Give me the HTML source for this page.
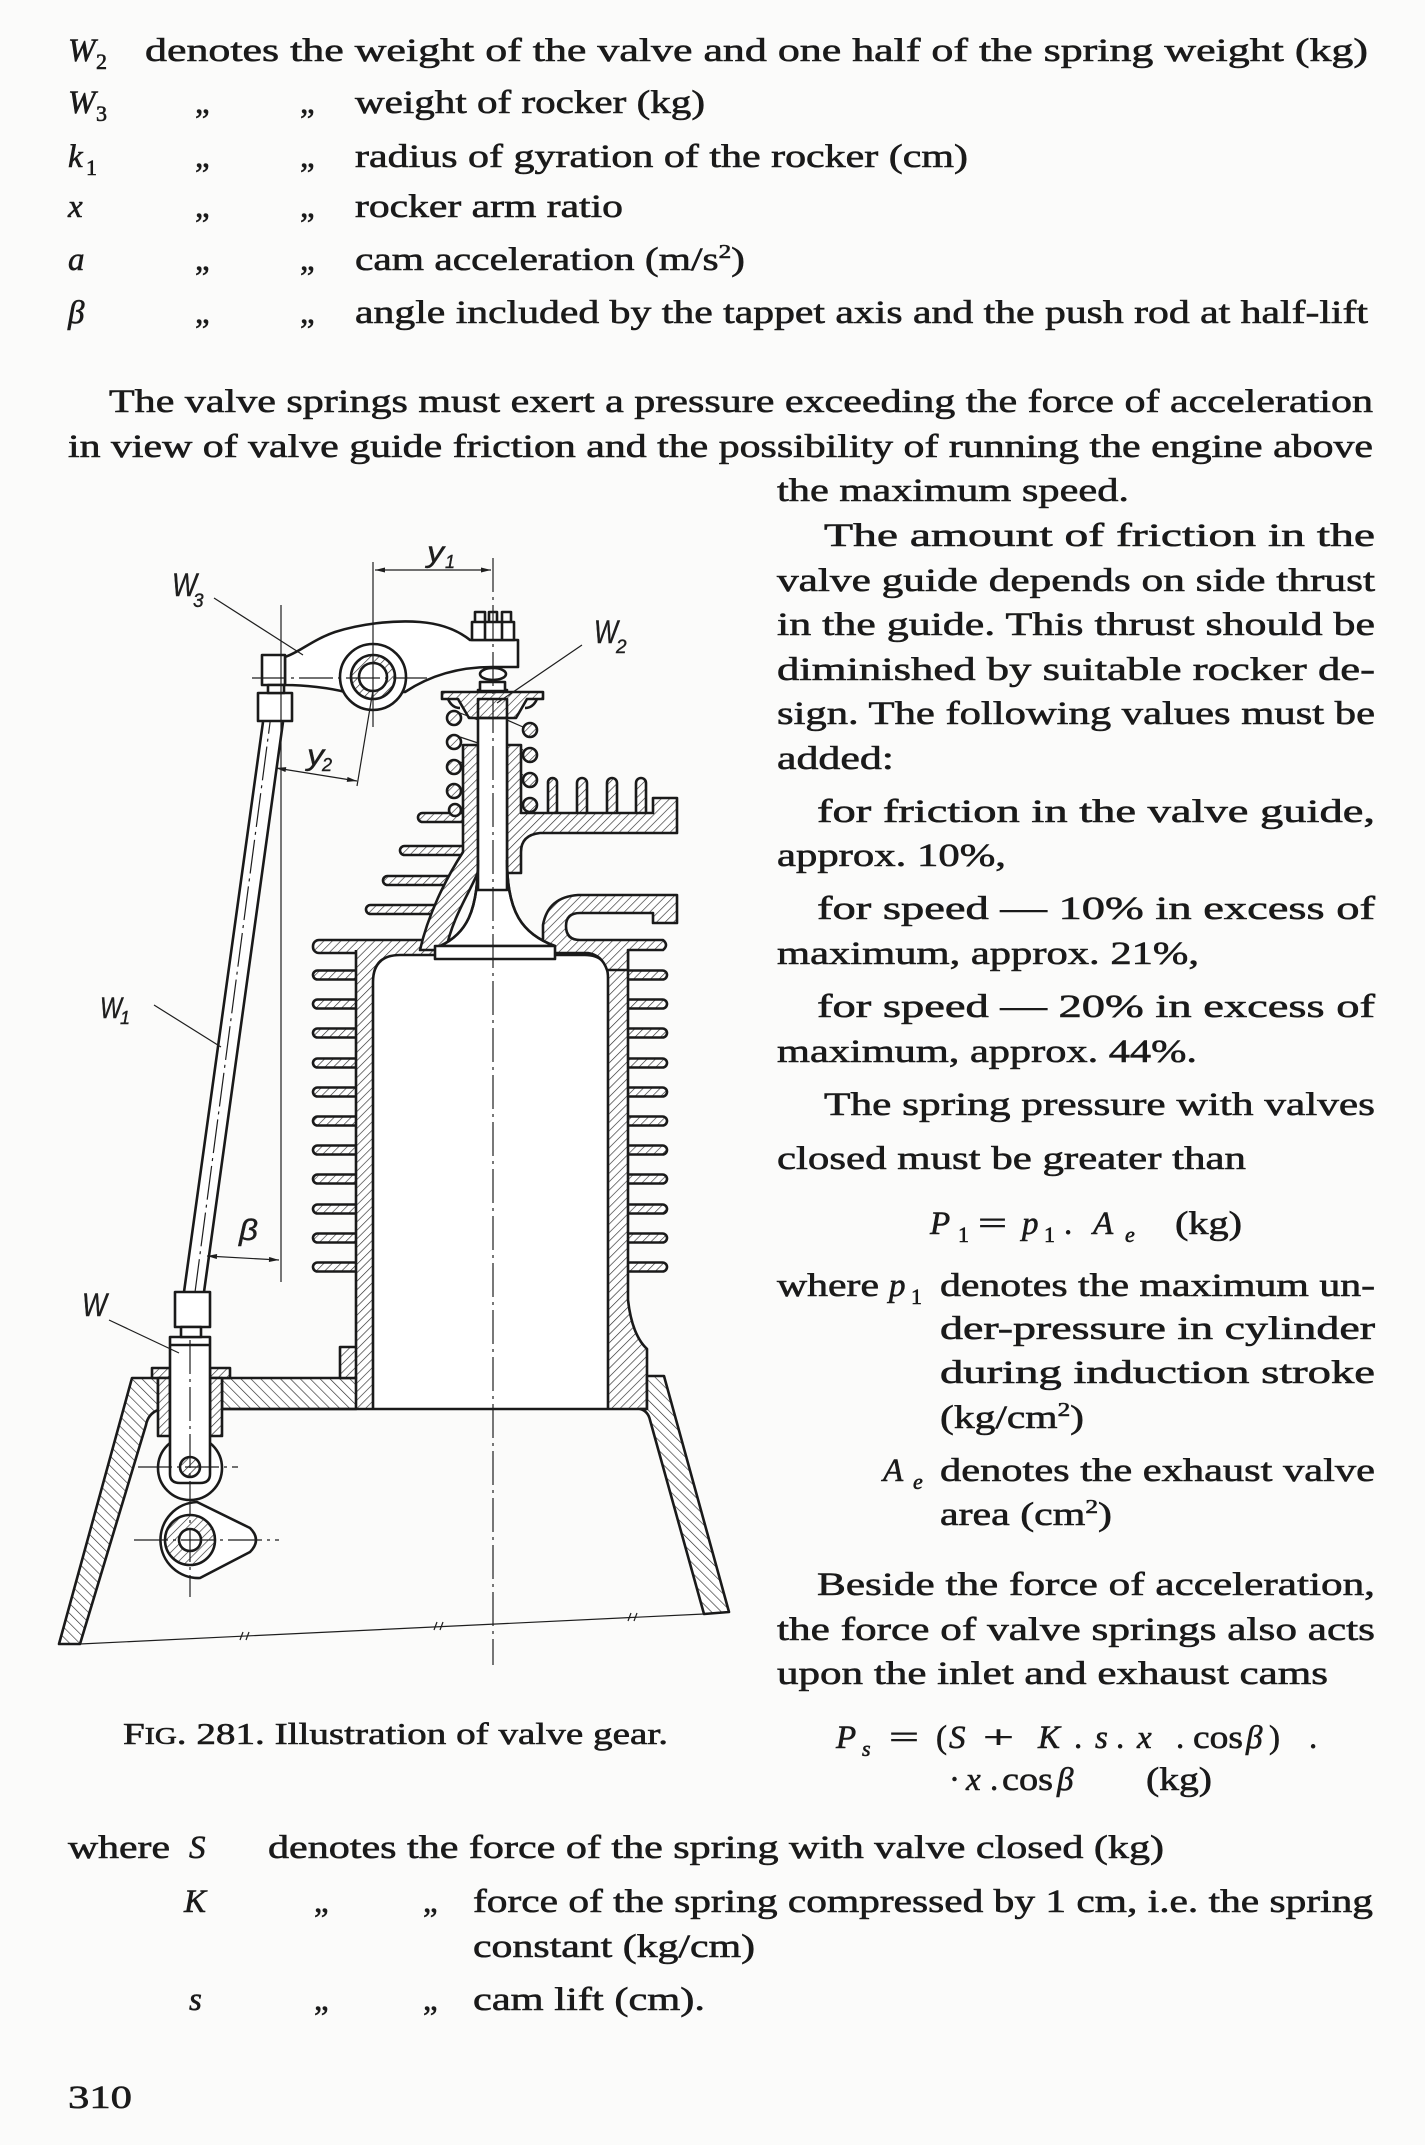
<!DOCTYPE html>
<html><head><meta charset="utf-8"><style>
html,body{margin:0;padding:0;background:#fbfbfa;}
svg{display:block;}
.t{font-family:"Liberation Serif",serif;font-size:33px;fill:#1a1a1a;stroke:#1a1a1a;stroke-width:0.6px;}
.i{font-style:italic;}
.s{font-size:22px;}
.l{font-family:"Liberation Sans",sans-serif;font-style:italic;fill:#1e1e1e;stroke:#1e1e1e;stroke-width:0.4px;}
.o{stroke:#1a1a1a;stroke-width:2.6;stroke-linejoin:round;}
.th{stroke:#1e1e1e;stroke-width:1.2;fill:none;}
.cl{stroke:#1e1e1e;stroke-width:1.2;fill:none;stroke-dasharray:34 5 3 5;}
</style></head><body>
<svg width="1425" height="2145" viewBox="0 0 1425 2145" xmlns="http://www.w3.org/2000/svg">
<defs>
<pattern id="h1" width="6" height="6" patternUnits="userSpaceOnUse" patternTransform="rotate(45)"><rect width="6" height="6" fill="#fff"/><line x1="0" y1="0" x2="0" y2="6" stroke="#2c2c2c" stroke-width="1.3"/></pattern>
<pattern id="h2" width="7" height="7" patternUnits="userSpaceOnUse" patternTransform="rotate(-45)"><rect width="7" height="7" fill="#fff"/><line x1="0" y1="0" x2="0" y2="7" stroke="#2c2c2c" stroke-width="1.3"/></pattern>
<marker id="ar" viewBox="0 0 12 6" refX="12" refY="3" markerWidth="12" markerHeight="5" markerUnits="userSpaceOnUse" orient="auto-start-reverse"><path d="M0,0 L12,3 L0,6 z" fill="#1e1e1e"/></marker>
</defs>

<!-- ===== TOP LIST ===== -->
<g class="t">
<text x="68" y="61" class="i">W</text><text x="96" y="69" class="s">2</text>
<text x="145" y="61" textLength="1223" lengthAdjust="spacingAndGlyphs">denotes the weight of the valve and one half of the spring weight (kg)</text>

<text x="68" y="113" class="i">W</text><text x="96" y="121" class="s">3</text>
<text x="195" y="113">„</text><text x="300" y="113">„</text>
<text x="355" y="113" textLength="350" lengthAdjust="spacingAndGlyphs">weight of rocker (kg)</text>

<text x="68" y="167" class="i">k</text><text x="86" y="175" class="s">1</text>
<text x="195" y="167">„</text><text x="300" y="167">„</text>
<text x="355" y="167" textLength="613" lengthAdjust="spacingAndGlyphs">radius of gyration of the rocker (cm)</text>

<text x="68" y="217" class="i">x</text>
<text x="195" y="217">„</text><text x="300" y="217">„</text>
<text x="355" y="217" textLength="268" lengthAdjust="spacingAndGlyphs">rocker arm ratio</text>

<text x="68" y="270" class="i">a</text>
<text x="195" y="270">„</text><text x="300" y="270">„</text>
<text x="355" y="270" textLength="390" lengthAdjust="spacingAndGlyphs">cam acceleration (m/s<tspan dy="-12" font-size="20">2</tspan><tspan dy="12">)</tspan></text>

<text x="68" y="323" class="i">β</text>
<text x="195" y="323">„</text><text x="300" y="323">„</text>
<text x="355" y="323" textLength="1013" lengthAdjust="spacingAndGlyphs">angle included by the tappet axis and the push rod at half-lift</text>

<!-- paragraph -->
<text x="109" y="412" textLength="1264" lengthAdjust="spacingAndGlyphs">The valve springs must exert a pressure exceeding the force of acceleration</text>
<text x="68" y="457" textLength="1305" lengthAdjust="spacingAndGlyphs">in view of valve guide friction and the possibility of running the engine above</text>
<text x="777" y="501" textLength="352" lengthAdjust="spacingAndGlyphs">the maximum speed.</text>

<text x="824" y="546" textLength="551" lengthAdjust="spacingAndGlyphs">The amount of friction in the</text>
<text x="777" y="591" textLength="598" lengthAdjust="spacingAndGlyphs">valve guide depends on side thrust</text>
<text x="777" y="635" textLength="598" lengthAdjust="spacingAndGlyphs">in the guide. This thrust should be</text>
<text x="777" y="680" textLength="598" lengthAdjust="spacingAndGlyphs">diminished by suitable rocker de-</text>
<text x="777" y="724" textLength="598" lengthAdjust="spacingAndGlyphs">sign. The following values must be</text>
<text x="777" y="769" textLength="117" lengthAdjust="spacingAndGlyphs">added:</text>

<text x="817" y="822" textLength="558" lengthAdjust="spacingAndGlyphs">for friction in the valve guide,</text>
<text x="777" y="866" textLength="229" lengthAdjust="spacingAndGlyphs">approx. 10%,</text>
<text x="817" y="919" textLength="558" lengthAdjust="spacingAndGlyphs">for speed — 10% in excess of</text>
<text x="777" y="964" textLength="422" lengthAdjust="spacingAndGlyphs">maximum, approx. 21%,</text>
<text x="817" y="1017" textLength="558" lengthAdjust="spacingAndGlyphs">for speed — 20% in excess of</text>
<text x="777" y="1062" textLength="420" lengthAdjust="spacingAndGlyphs">maximum, approx. 44%.</text>

<text x="824" y="1115" textLength="551" lengthAdjust="spacingAndGlyphs">The spring pressure with valves</text>
<text x="777" y="1169" textLength="469" lengthAdjust="spacingAndGlyphs">closed must be greater than</text>

<!-- P1 formula -->
<text x="930" y="1234" class="i">P</text><text x="958" y="1242" class="s">1</text>
<text x="978" y="1234" textLength="29" lengthAdjust="spacingAndGlyphs">=</text>
<text x="1022" y="1234" class="i">p</text><text x="1044" y="1242" class="s">1</text>
<text x="1064" y="1234">.</text>
<text x="1093" y="1234" class="i">A</text><text x="1125" y="1242" class="s i">e</text>
<text x="1175" y="1234" textLength="67" lengthAdjust="spacingAndGlyphs">(kg)</text>

<text x="777" y="1296" textLength="102" lengthAdjust="spacingAndGlyphs">where</text>
<text x="889" y="1296" class="i">p</text><text x="911" y="1304" class="s">1</text>
<text x="940" y="1296" textLength="435" lengthAdjust="spacingAndGlyphs">denotes the maximum un-</text>
<text x="940" y="1339" textLength="435" lengthAdjust="spacingAndGlyphs">der-pressure in cylinder</text>
<text x="940" y="1383" textLength="435" lengthAdjust="spacingAndGlyphs">during induction stroke</text>
<text x="940" y="1428" textLength="144" lengthAdjust="spacingAndGlyphs">(kg/cm<tspan dy="-12" font-size="20">2</tspan><tspan dy="12">)</tspan></text>
<text x="883" y="1481" class="i">A</text><text x="913" y="1489" class="s i">e</text>
<text x="940" y="1481" textLength="435" lengthAdjust="spacingAndGlyphs">denotes the exhaust valve</text>
<text x="940" y="1525" textLength="172" lengthAdjust="spacingAndGlyphs">area (cm<tspan dy="-12" font-size="20">2</tspan><tspan dy="12">)</tspan></text>

<text x="817" y="1595" textLength="558" lengthAdjust="spacingAndGlyphs">Beside the force of acceleration,</text>
<text x="777" y="1640" textLength="598" lengthAdjust="spacingAndGlyphs">the force of valve springs also acts</text>
<text x="777" y="1684" textLength="551" lengthAdjust="spacingAndGlyphs">upon the inlet and exhaust cams</text>

<!-- Ps formula -->
<text x="836" y="1748" class="i">P</text><text x="862" y="1756" class="s i">s</text>
<text x="889" y="1748" textLength="30" lengthAdjust="spacingAndGlyphs">=</text>
<text x="936" y="1748">(</text>
<text x="949" y="1748" class="i">S</text>
<text x="983" y="1748" textLength="31" lengthAdjust="spacingAndGlyphs">+</text>
<text x="1038" y="1748" class="i">K</text>
<text x="1074" y="1748">.</text>
<text x="1095" y="1748" class="i">s</text>
<text x="1116" y="1748">.</text>
<text x="1137" y="1748" class="i">x</text>
<text x="1176" y="1748">.</text>
<text x="1193" y="1748" textLength="50" lengthAdjust="spacingAndGlyphs">cos</text>
<text x="1246" y="1748" class="i">β</text>
<text x="1269" y="1748">)</text>
<text x="1309" y="1748">.</text>

<text x="949" y="1790">·</text>
<text x="966" y="1790" class="i">x</text>
<text x="990" y="1790">.</text>
<text x="1002" y="1790" textLength="51" lengthAdjust="spacingAndGlyphs">cos</text>
<text x="1057" y="1790" class="i">β</text>
<text x="1146" y="1790" textLength="66" lengthAdjust="spacingAndGlyphs">(kg)</text>

<!-- caption -->
<text x="123" y="1744" textLength="545" lengthAdjust="spacingAndGlyphs" font-size="31">F<tspan font-size="24">IG</tspan>. 281. Illustration of valve gear.</text>

<!-- bottom list -->
<text x="68" y="1858" textLength="102" lengthAdjust="spacingAndGlyphs">where</text>
<text x="189" y="1858" class="i">S</text>
<text x="268" y="1858" textLength="896" lengthAdjust="spacingAndGlyphs">denotes the force of the spring with valve closed (kg)</text>

<text x="184" y="1912" class="i">K</text>
<text x="314" y="1912">„</text><text x="423" y="1912">„</text>
<text x="473" y="1912" textLength="900" lengthAdjust="spacingAndGlyphs">force of the spring compressed by 1 cm, i.e. the spring</text>
<text x="473" y="1957" textLength="282" lengthAdjust="spacingAndGlyphs">constant (kg/cm)</text>

<text x="189" y="2010" class="i">s</text>
<text x="314" y="2010">„</text><text x="423" y="2010">„</text>
<text x="473" y="2010" textLength="232" lengthAdjust="spacingAndGlyphs">cam lift (cm).</text>

<text x="68" y="2108" textLength="64" lengthAdjust="spacingAndGlyphs">310</text>
</g>

<!-- ===== FIGURE ===== -->
<g>
<!-- left barrel fins -->
<g fill="url(#h1)" class="o">
<rect x="313" y="940" width="135" height="13" rx="6"/>
<rect x="313" y="970.5" width="50" height="9" rx="4.5"/>
<rect x="313" y="999.5" width="50" height="9" rx="4.5"/>
<rect x="313" y="1028.5" width="50" height="9" rx="4.5"/>
<rect x="313" y="1058.5" width="50" height="9" rx="4.5"/>
<rect x="313" y="1087.5" width="50" height="9" rx="4.5"/>
<rect x="313" y="1116.5" width="50" height="9" rx="4.5"/>
<rect x="313" y="1145.5" width="50" height="9" rx="4.5"/>
<rect x="313" y="1174.5" width="50" height="9" rx="4.5"/>
<rect x="313" y="1204.5" width="50" height="9" rx="4.5"/>
<rect x="313" y="1233.5" width="50" height="9" rx="4.5"/>
<rect x="313" y="1262.5" width="50" height="9" rx="4.5"/>
<!-- right barrel fins -->
<rect x="620" y="970.5" width="47" height="9" rx="4.5"/>
<rect x="620" y="999.5" width="47" height="9" rx="4.5"/>
<rect x="620" y="1028.5" width="47" height="9" rx="4.5"/>
<rect x="620" y="1058.5" width="47" height="9" rx="4.5"/>
<rect x="620" y="1087.5" width="47" height="9" rx="4.5"/>
<rect x="620" y="1116.5" width="47" height="9" rx="4.5"/>
<rect x="620" y="1145.5" width="47" height="9" rx="4.5"/>
<rect x="620" y="1174.5" width="47" height="9" rx="4.5"/>
<rect x="620" y="1204.5" width="47" height="9" rx="4.5"/>
<rect x="620" y="1233.5" width="47" height="9" rx="4.5"/>
<rect x="620" y="1262.5" width="47" height="9" rx="4.5"/>
<!-- head left fins -->
<rect x="418" y="813" width="55" height="9" rx="4.5"/>
<rect x="400" y="846" width="66" height="9" rx="4.5"/>
<rect x="383" y="876" width="72" height="9" rx="4.5"/>
<rect x="366" y="905" width="76" height="9" rx="4.5"/>
<!-- head top fins -->
<rect x="548" y="778" width="9" height="42" rx="4.5"/>
<rect x="577" y="778" width="10" height="42" rx="5"/>
<rect x="607" y="778" width="10" height="42" rx="5"/>
<rect x="636" y="778" width="10" height="42" rx="5"/>
</g>

<!-- barrel body -->
<path d="M356,950 L628,950 L628,1300 Q632,1335 647,1349 L647,1409 L356,1409 Z" fill="url(#h1)"/>
<path d="M356,950 L356,1347 M628,950 L628,1300 Q632,1335 647,1349 L647,1409" class="o" fill="none"/>
<!-- bore -->
<path d="M373,1409 L373,982 Q373,955 400,955 L585,955 Q608,955 608,978 L608,1409" fill="#fff" class="o"/>

<!-- head left diagonal wall + guide -->
<path d="M463,745 L478,745 L478,872 C470,892 452,918 446,950 L420,950 C428,915 445,880 463,852 Z" fill="url(#h1)" class="o"/>
<!-- head upper right + guide -->
<path d="M507,745 L521,745 L521,813 L653,813 L653,798 L677,798 L677,833 L540,833 Q521,835 521,852 L521,873 L507,873 Z" fill="url(#h1)" class="o"/>
<!-- head lower right -->
<path d="M543,950 L543,925 Q548,897 578,895 L677,895 L677,923 L653,923 L653,913 L580,913 Q566,913 566,926 Q566,940 580,940 L663,940 Q669,945 663,950 L628,950 L628,970 L607,970 Q602,955 588,953 L555,953 Z" fill="url(#h1)" class="o"/>

<!-- valve -->
<path d="M478,860 C478,912 466,934 440,946 L555,946 C522,934 507,912 507,860 Z" fill="#fff" class="o"/>
<rect x="478" y="690" width="29" height="200" fill="#fff" class="o"/>
<path d="M478,860 C478,912 466,934 440,946 M507,860 C507,912 522,934 555,946" class="o" fill="none"/>
<rect x="435" y="946" width="120" height="13" fill="#fff" class="o"/>
<rect x="480" y="682" width="25" height="9" fill="#fff" class="o"/>
<!-- retainer -->
<path d="M442,692 L543,692 L543,699 L527,699 L516,718 L469,718 L458,699 L442,699 Z" fill="url(#h1)" class="o"/>
<path d="M448,699 Q452,708 460,708 M537,699 Q533,708 525,708" class="o" fill="none"/>
<rect x="478" y="699" width="29" height="19" fill="none" class="o"/>
<!-- spring coils -->
<g fill="url(#h1)" class="o">
<circle cx="454" cy="718" r="7"/><circle cx="454" cy="742" r="7"/><circle cx="454" cy="767" r="7"/><circle cx="454" cy="791" r="7"/><circle cx="455" cy="810" r="6"/>
<circle cx="530" cy="730" r="7"/><circle cx="530" cy="755" r="7"/><circle cx="530" cy="780" r="7"/><circle cx="530" cy="805" r="7"/>
</g>
<path d="M460,713 L478,720 M460,737 L478,743 M460,762 L463,763 M523,727 L507,720 M523,750 L521,749 M523,775 L521,774" class="th" stroke-width="1.8"/>

<!-- crankcase -->
<rect x="222" y="1378" width="134" height="31" fill="url(#h2)" class="o"/>
<rect x="340" y="1347" width="16" height="31" fill="url(#h1)" class="o"/>
<path d="M132,1378 L158,1378 L158,1410 Q148,1414 146,1425 L80,1644 L59,1644 Z" fill="url(#h2)" class="o"/>
<path d="M647,1376 L664,1376 L729,1612 L704,1614 L650,1420 Q648,1411 640,1409 L647,1409 Z" fill="url(#h2)" class="o"/>
<line x1="158" y1="1409" x2="647" y2="1409" class="o"/>
<line x1="80" y1="1644" x2="704" y2="1614" class="th" stroke-width="1.5"/>
<path d="M240,1640 l3,-8 M246,1640 l3,-8 M434,1630 l3,-8 M440,1630 l3,-8 M628,1621 l3,-8 M634,1621 l3,-8" class="th"/>

<!-- tappet guide -->
<g fill="url(#h1)" class="o">
<rect x="152" y="1368" width="18" height="10"/>
<rect x="210" y="1368" width="20" height="10"/>
<rect x="158" y="1378" width="12" height="58"/>
<rect x="210" y="1378" width="12" height="58"/>
</g>
<!-- roller -->
<circle cx="190" cy="1468" r="32" fill="#fff" class="o"/>
<path d="M170,1337 L210,1337 L210,1474 Q210,1483 200,1483 L180,1483 Q170,1483 170,1474 Z" fill="#fff" class="o"/>
<line x1="170" y1="1345" x2="210" y2="1345" class="o"/>
<circle cx="190" cy="1467" r="10" fill="url(#h1)" class="o"/>
<!-- cam -->
<path d="M197,1502 L250,1528 Q262,1540 250,1552 L200,1578 A38,38 0 1,1 197,1502 Z" fill="#fff" class="o"/>
<circle cx="190" cy="1540" r="25" fill="url(#h1)" class="o"/>
<circle cx="190" cy="1540" r="11" fill="#fff" class="o"/>
<path d="M138,1467 L238,1467 M134,1540 L279,1540" class="cl"/>
<path d="M190,1340 L190,1597" class="cl"/>

<!-- push rod -->
<path d="M263,722 L283,722 L204,1292 L184,1292 Z" fill="#fff"/>
<path d="M263,722 L184,1292 M283,722 L204,1292" class="o"/>
<line x1="273" y1="700" x2="192" y2="1315" class="cl"/>
<rect x="258" y="693" width="34" height="28" fill="#fff" class="o"/>
<rect x="175" y="1292" width="35" height="35" fill="#fff" class="o"/>
<rect x="181" y="1327" width="20" height="10" fill="#fff" class="o"/>

<!-- rocker -->
<path d="M285,657 C300,652 312,640 335,632 C360,624 392,620 420,622 C445,624 460,632 470,640 L518,640 L518,667 L492,667 C462,667 432,674 405,692 L345,692 C330,688 305,685 285,685 Z" fill="#fff" class="o"/>
<rect x="262" y="655" width="23" height="30" fill="#fff" class="o"/>
<rect x="268" y="685" width="16" height="8" fill="#fff" class="o"/>
<circle cx="373" cy="677" r="33" fill="#fff" class="o"/>
<circle cx="373" cy="677" r="22" fill="url(#h1)" class="o"/>
<circle cx="373" cy="677" r="14" fill="#fff" class="o"/>
<rect x="472" y="622" width="42" height="18" fill="#fff" class="o"/>
<path d="M475,622 L475,612 L485,612 L485,622 M489,622 L489,612 L497,612 L497,622 M502,622 L502,612 L511,612 L511,622 M485,622 L485,640 M502,622 L502,640" class="o" fill="none"/>
<ellipse cx="493" cy="674" rx="13" ry="6" fill="#fff" class="o"/>
<line x1="252" y1="678" x2="432" y2="678" class="cl"/>

<!-- centerline valve -->
<line x1="493" y1="558" x2="493" y2="1665" class="cl"/>

<!-- dimensions -->
<line x1="373" y1="562" x2="373" y2="727" class="th"/>
<line x1="375" y1="570" x2="491" y2="570" class="th" marker-start="url(#ar)" marker-end="url(#ar)"/>
<line x1="373" y1="690" x2="357" y2="786" class="th"/>
<line x1="276" y1="768" x2="357" y2="781" class="th" marker-start="url(#ar)" marker-end="url(#ar)"/>
<line x1="281" y1="605" x2="281" y2="1282" class="th"/>
<line x1="207" y1="1256" x2="279" y2="1260" class="th" marker-start="url(#ar)" marker-end="url(#ar)"/>

<!-- leaders -->
<path d="M214,598 L303,655 M582,645 L497,703 M154,1005 L221,1047 M109,1320 L179,1353" class="th" stroke-width="1.3"/>

<!-- labels -->
<text x="172" y="596" class="l" font-size="32" textLength="25" lengthAdjust="spacingAndGlyphs">W</text>
<text x="193" y="607" class="l" font-size="19">3</text>
<text x="594" y="643" class="l" font-size="32" textLength="24" lengthAdjust="spacingAndGlyphs">W</text>
<text x="616" y="653" class="l" font-size="19">2</text>
<text x="427" y="562" class="l" font-size="30" textLength="17" lengthAdjust="spacingAndGlyphs">y</text>
<text x="445" y="568" class="l" font-size="18">1</text>
<text x="307" y="765" class="l" font-size="30" textLength="17" lengthAdjust="spacingAndGlyphs">y</text>
<text x="322" y="771" class="l" font-size="18">2</text>
<text x="100" y="1018" class="l" font-size="30" textLength="22" lengthAdjust="spacingAndGlyphs">W</text>
<text x="120" y="1024" class="l" font-size="18">1</text>
<text x="239" y="1240" class="l" font-size="30" textLength="19" lengthAdjust="spacingAndGlyphs">β</text>
<text x="82" y="1316" class="l" font-size="32" textLength="25" lengthAdjust="spacingAndGlyphs">W</text>
</g>
</svg>
</body></html>
